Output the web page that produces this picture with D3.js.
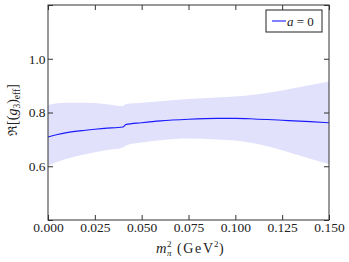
<!DOCTYPE html>
<html>
<head>
<meta charset="utf-8">
<script src="https://cdn.jsdelivr.net/npm/d3@7"></script>
<style>
    body { margin: 0; background: #fff; }
    text { font-family: "Liberation Serif", "DejaVu Serif", serif; }
    .axis text { font-size: 13.5px; fill: #222; }
    .axis line { stroke: #333; }
    .axis path { display: none; }
</style>
</head>
<body>
<div id="chart" style="width:349px;height:262px"></div>
<script>
const mpi2 = [0, 0.005, 0.01, 0.02, 0.03, 0.04, 0.0415, 0.05, 0.06, 0.075, 0.09, 0.1, 0.11, 0.125, 0.14, 0.15];
const central = [0.709, 0.718, 0.725, 0.734, 0.741, 0.746, 0.755, 0.762, 0.769, 0.775, 0.778, 0.778, 0.776, 0.771, 0.766, 0.762];
const upper = [0.828, 0.834, 0.836, 0.836, 0.832, 0.824, 0.831, 0.836, 0.842, 0.850, 0.856, 0.860, 0.866, 0.882, 0.902, 0.915];
const lower = [0.602, 0.617, 0.628, 0.645, 0.659, 0.670, 0.677, 0.688, 0.697, 0.703, 0.700, 0.696, 0.686, 0.660, 0.628, 0.608];
const xTicks = [0, 0.025, 0.05, 0.075, 0.1, 0.125, 0.15];
const yTicks = [0.4, 0.6, 0.8, 1.0, 1.2];
const legendLabel = 'a';

const element = document.getElementById('chart');
const width = 349;
const height = 262;
const margin = {top: 5, bottom: 42, left: 48, right: 20};
const svgWidth = width - margin.left - margin.right;
const svgHeight = height - margin.top - margin.bottom;

const data = mpi2.map((m, i) => ({m: m, c: central[i], lo: lower[i], hi: upper[i]}));

const x = d3.scaleLinear().domain([0, 0.15]).range([0, svgWidth]);
const y = d3.scaleLinear().domain([0.4, 1.2]).range([svgHeight, 0]);

const svg = d3.select(element)
    .append('svg')
    .attr('width', width)
    .attr('height', height)
    .append('g')
    .attr('transform', `translate(${margin.left},${margin.top})`);

// error band
svg.append('path')
    .datum(data)
    .attr('fill', '#e1e1fc')
    .attr('stroke', 'none')
    .attr('d', d3.area()
        .curve(d3.curveMonotoneX)
        .x(d => x(d.m))
        .y0(d => y(d.lo))
        .y1(d => y(d.hi)));

svg.append('path')
    .datum(data)
    .attr('fill', 'none')
    .attr('stroke', '#1a1aff')
    .attr('stroke-width', 1.1)
    .attr('d', d3.line()
        .curve(d3.curveMonotoneX)
        .x(d => x(d.m))
        .y(d => y(d.c)));

const fmtX = d3.format('.3f');
const fmtY = d3.format('.1f');

svg.append('g')
    .attr('class', 'x axis')
    .attr('transform', `translate(0,${svgHeight})`)
    .call(d3.axisBottom(x).tickValues(xTicks).tickSize(-5).tickPadding(2.5).tickFormat(fmtX));

svg.append('g')
    .attr('class', 'x axis')
    .call(d3.axisTop(x).tickValues(xTicks).tickSize(-5).tickFormat(''));

svg.append('g')
    .attr('class', 'y axis')
    .call(d3.axisLeft(y).tickValues(yTicks).tickSize(-5).tickPadding(2.5)
        .tickFormat(d => (d > 0.5 && d < 1.1) ? fmtY(d) : ''));

svg.append('g')
    .attr('class', 'y axis')
    .attr('transform', `translate(${svgWidth},0)`)
    .call(d3.axisRight(y).tickValues(yTicks).tickSize(-5).tickFormat(''));

svg.selectAll('.axis').attr('font-family', null).attr('font-size', null);

// frame
svg.append('rect')
    .attr('x', 0).attr('y', 0)
    .attr('width', svgWidth).attr('height', svgHeight)
    .attr('fill', 'none')
    .attr('stroke', '#333')
    .attr('stroke-width', 1);

// x label
const xlx = 156 - margin.left;
const xly = 252.5 - margin.top;
svg.append('text').attr('x', xlx).attr('y', xly)
    .style('font-size', '14.5px').style('font-style', 'italic').attr('fill', '#222').text('m');
svg.append('text').attr('x', xlx + 11).attr('y', xly - 6)
    .style('font-size', '9px').attr('fill', '#222').text('2');
svg.append('text').attr('x', xlx + 11).attr('y', xly + 3)
    .style('font-size', '9px').style('font-style', 'italic').attr('fill', '#222').text('π');
svg.append('text').attr('x', xlx + 21).attr('y', xly)
    .attr('textLength', 36).attr('lengthAdjust', 'spacing')
    .style('font-size', '14px').attr('fill', '#222').text('(GeV');
svg.append('text').attr('x', xlx + 58).attr('y', xly - 6)
    .style('font-size', '9px').attr('fill', '#222').text('2');
svg.append('text').attr('x', xlx + 63).attr('y', xly)
    .style('font-size', '14px').attr('fill', '#222').text(')');

// y label
const yl = svg.append('text')
    .attr('transform', `translate(-31,${110 - margin.top}) rotate(-90)`)
    .attr('text-anchor', 'middle')
    .style('font-size', '14px')
    .attr('fill', '#222');
yl.append('tspan').style('font-family', '"DejaVu Serif", serif').style('font-size', '12.5px').text('ℜ');
yl.append('tspan').text('[(');
yl.append('tspan').attr('font-style', 'italic').text('g');
yl.append('tspan').attr('dy', 3).style('font-size', '9.5px').text('3');
yl.append('tspan').attr('dy', -3).text(')');
yl.append('tspan').attr('dy', 3).style('font-size', '9.5px').text('eff');
yl.append('tspan').attr('dy', -3).text(']');

// legend
const lg = svg.append('g').attr('transform', `translate(${266 - margin.left},${10 - margin.top})`);
lg.append('rect')
    .attr('width', 56).attr('height', 22)
    .attr('fill', '#fff')
    .attr('stroke', '#222')
    .attr('stroke-width', 1);
lg.append('line')
    .attr('x1', 6).attr('x2', 20)
    .attr('y1', 11).attr('y2', 11)
    .attr('stroke', '#1a1aff')
    .attr('stroke-width', 1.1);
const lt = lg.append('text')
    .attr('x', 21).attr('y', 15.5)
    .style('font-size', '13px')
    .attr('fill', '#222');
lt.append('tspan').attr('font-style', 'italic').text(legendLabel);
lt.append('tspan').text(' = 0');
</script>
</body>
</html>
